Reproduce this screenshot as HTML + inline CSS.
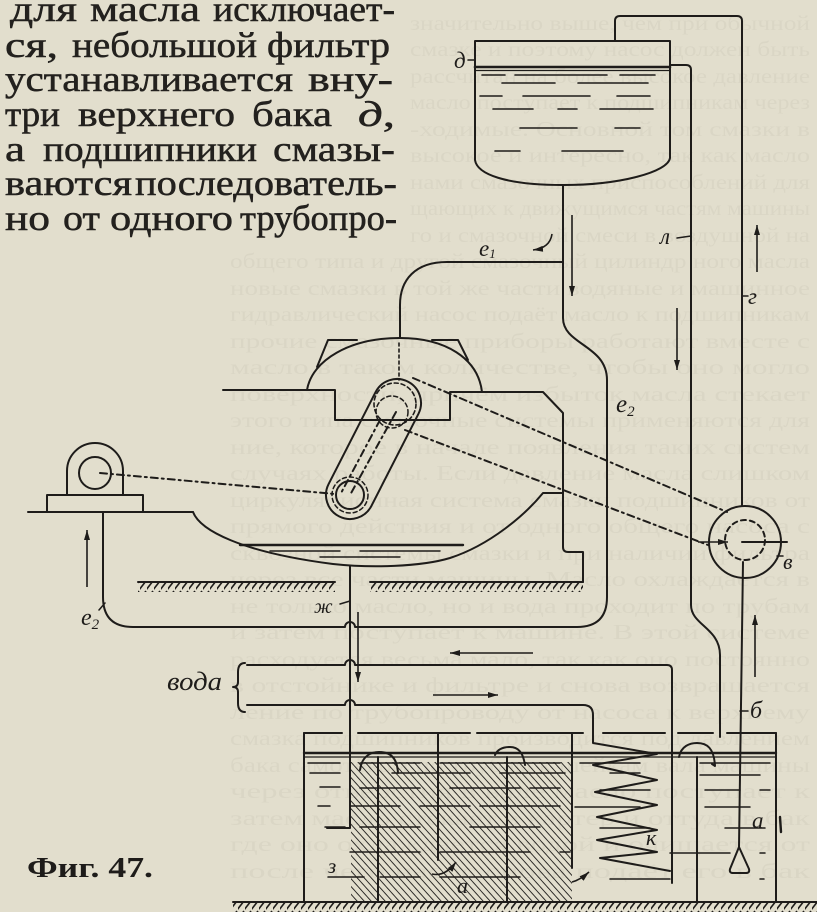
<!DOCTYPE html>
<html><head><meta charset="utf-8"><style>
html,body{margin:0;padding:0;background:#e2decd;}
svg{display:block}
</style></head><body>
<svg xmlns="http://www.w3.org/2000/svg" width="817" height="912" viewBox="0 0 817 912">
<defs>
<marker id="ah" viewBox="0 0 10 6" markerWidth="10" markerHeight="6" refX="10" refY="3" orient="auto" markerUnits="userSpaceOnUse"><path d="M0,0 L10,3 L0,6 Z" fill="#1e1c1a"/></marker>
<pattern id="fh" width="7" height="10" patternUnits="userSpaceOnUse"><line x1="-1" y1="10" x2="6" y2="1" stroke="#1e1c1a" stroke-width="1.6"/></pattern>
<pattern id="dh" width="5.2" height="6" patternUnits="userSpaceOnUse" patternTransform="rotate(-42)"><line x1="0" y1="0" x2="0" y2="6" stroke="#1e1c1a" stroke-width="1.8"/></pattern>
</defs>
<rect width="817" height="912" fill="#e2decd"/>

<!-- faint bleed-through text -->
<g font-family="'Liberation Serif',serif" font-size="21" fill="#3a3528" opacity="0.045">
<text x="410" y="30" textLength="400" lengthAdjust="spacingAndGlyphs">значительно выше, чем при обычной</text>
<text x="410" y="56" textLength="400" lengthAdjust="spacingAndGlyphs">смазке и поэтому насос должен быть</text>
<text x="410" y="83" textLength="400" lengthAdjust="spacingAndGlyphs">рассчитан на более высокое давление</text>
<text x="410" y="109" textLength="400" lengthAdjust="spacingAndGlyphs">масло поступает к подшипникам через</text>
<text x="410" y="136" textLength="400" lengthAdjust="spacingAndGlyphs">-ходимые. Основной том смазки в</text>
<text x="410" y="162" textLength="400" lengthAdjust="spacingAndGlyphs">высокое и интересно, так как масло</text>
<text x="410" y="189" textLength="400" lengthAdjust="spacingAndGlyphs">нами смазочных приспособлений для</text>
<text x="410" y="215" textLength="400" lengthAdjust="spacingAndGlyphs">щающих к движущимся частям машины</text>
<text x="410" y="242" textLength="400" lengthAdjust="spacingAndGlyphs">го и смазочной смеси в воздушной на</text>
<text x="230" y="268" textLength="580" lengthAdjust="spacingAndGlyphs">общего типа и другой смазочный цилиндр ного масла</text>
<text x="230" y="295" textLength="580" lengthAdjust="spacingAndGlyphs">новые смазки в той же части водяные и машинное</text>
<text x="230" y="321" textLength="580" lengthAdjust="spacingAndGlyphs">гидравлический насос подаёт масло к подшипникам</text>
<text x="230" y="348" textLength="580" lengthAdjust="spacingAndGlyphs">прочие смазочные приборы работают вместе с</text>
<text x="230" y="374" textLength="580" lengthAdjust="spacingAndGlyphs">масло в таком количестве, чтобы оно могло</text>
<text x="230" y="401" textLength="580" lengthAdjust="spacingAndGlyphs">поверхности, причём избыток масла стекает</text>
<text x="230" y="427" textLength="580" lengthAdjust="spacingAndGlyphs">этого типа смазочные системы применяются для</text>
<text x="230" y="454" textLength="580" lengthAdjust="spacingAndGlyphs">ние, которое в начале появления таких систем</text>
<text x="230" y="480" textLength="580" lengthAdjust="spacingAndGlyphs">случаях работы. Если давление масла слишком</text>
<text x="230" y="507" textLength="580" lengthAdjust="spacingAndGlyphs">циркуляционная система смазки подшипников от</text>
<text x="230" y="533" textLength="580" lengthAdjust="spacingAndGlyphs">прямого действия и от одного общего насоса с</text>
<text x="230" y="560" textLength="580" lengthAdjust="spacingAndGlyphs">сквозной системы смазки и при наличии фильтра</text>
<text x="230" y="586" textLength="580" lengthAdjust="spacingAndGlyphs">через все части машины. Масло охлаждается в</text>
<text x="230" y="613" textLength="580" lengthAdjust="spacingAndGlyphs">не только масло, но и вода проходит по трубам</text>
<text x="230" y="639" textLength="580" lengthAdjust="spacingAndGlyphs">и затем поступает к машине. В этой системе</text>
<text x="230" y="666" textLength="580" lengthAdjust="spacingAndGlyphs">расходуется весьма мало, так как оно постоянно</text>
<text x="230" y="692" textLength="580" lengthAdjust="spacingAndGlyphs">в отстойнике и фильтре и снова возвращается</text>
<text x="230" y="719" textLength="580" lengthAdjust="spacingAndGlyphs">ление по трубопроводу от насоса к верхнему</text>
<text x="230" y="745" textLength="580" lengthAdjust="spacingAndGlyphs">смазка подшипников производится под давлением</text>
<text x="230" y="772" textLength="580" lengthAdjust="spacingAndGlyphs">бака самотёком по трубам к шейкам вала машины</text>
<text x="230" y="798" textLength="580" lengthAdjust="spacingAndGlyphs">через отверстия в вале масло поступает к</text>
<text x="230" y="825" textLength="580" lengthAdjust="spacingAndGlyphs">затем масло стекает в картер и оттуда в бак</text>
<text x="230" y="851" textLength="580" lengthAdjust="spacingAndGlyphs">где оно охлаждается водой и очищается от</text>
<text x="230" y="878" textLength="580" lengthAdjust="spacingAndGlyphs">после чего насос снова подаёт его в бак</text>
</g>

<!-- main text -->
<g font-family="'Liberation Serif',serif" font-size="36" fill="#23211e" stroke="#23211e" stroke-width="0.5">
<text x="10" y="21" textLength="67" lengthAdjust="spacingAndGlyphs">для</text>
<text x="90" y="21" textLength="110" lengthAdjust="spacingAndGlyphs">масла</text>
<text x="213" y="21" textLength="182" lengthAdjust="spacingAndGlyphs">исключает-</text>
<text x="5" y="57" textLength="53" lengthAdjust="spacingAndGlyphs">ся,</text>
<text x="72" y="57" textLength="185" lengthAdjust="spacingAndGlyphs">небольшой</text>
<text x="267" y="57" textLength="123" lengthAdjust="spacingAndGlyphs">фильтр</text>
<text x="5" y="91" textLength="288" lengthAdjust="spacingAndGlyphs">устанавливается</text>
<text x="308" y="91" textLength="85" lengthAdjust="spacingAndGlyphs">вну-</text>
<text x="5" y="126" textLength="55" lengthAdjust="spacingAndGlyphs">три</text>
<text x="78" y="126" textLength="157" lengthAdjust="spacingAndGlyphs">верхнего</text>
<text x="252" y="126" textLength="80" lengthAdjust="spacingAndGlyphs">бака</text>
<text x="358" y="126" textLength="37" lengthAdjust="spacingAndGlyphs"><tspan font-style="italic">д</tspan>,</text>
<text x="5" y="161" textLength="20" lengthAdjust="spacingAndGlyphs">а</text>
<text x="43" y="161" textLength="214" lengthAdjust="spacingAndGlyphs">подшипники</text>
<text x="273" y="161" textLength="122" lengthAdjust="spacingAndGlyphs">смазы-</text>
<text x="5" y="195" textLength="127" lengthAdjust="spacingAndGlyphs">ваются</text>
<text x="135" y="195" textLength="262" lengthAdjust="spacingAndGlyphs">последователь-</text>
<text x="5" y="230" textLength="45" lengthAdjust="spacingAndGlyphs">но</text>
<text x="63" y="230" textLength="37" lengthAdjust="spacingAndGlyphs">от</text>
<text x="110" y="230" textLength="123" lengthAdjust="spacingAndGlyphs">одного</text>
<text x="240" y="230" textLength="157" lengthAdjust="spacingAndGlyphs">трубопро-</text>
</g>

<!-- hatching areas -->
<rect x="351" y="762" width="221" height="140" fill="url(#dh)"/>
<rect x="138" y="583" width="197" height="9" fill="url(#fh)"/>
<rect x="370" y="583" width="213" height="9" fill="url(#fh)"/>
<rect x="233" y="903" width="584" height="9" fill="url(#fh)"/>

<g fill="none" stroke="#1e1c1a" stroke-width="2" stroke-linecap="round" stroke-linejoin="round">
<!-- upper tank -->
<path d="M475,41 H670 V158 C668,172 620,185 563,185 C505,185 477,174 475,160 Z"/>
<line x1="475" y1="67" x2="670" y2="67" stroke-width="2.6"/>
<line x1="476" y1="70.5" x2="669" y2="70.5" stroke-width="1.2"/>
<g stroke-width="1.6">
<path d="M482,75 H505 M515,75 H607 M620,75 H655"/>
<path d="M502,83 H555 M578,83 H648"/>
<path d="M480,96 H502 M523,96 H590 M617,96 H650"/>
<path d="M493,109 H533 M558,109 H577 M600,109 H653"/>
<path d="M520,128 H577 M615,128 H640"/>
<path d="M495,151 H520 M562,151 H623"/>
</g>
<!-- pipes from tank -->
<path d="M615,41 V21 Q615,16 620,16 H737 Q742,16 742,21 V506"/>
<path d="M670,65 H686 Q691,65 691,70 V605 C691,625 720,628 720,655 V737"/>
<path d="M563,185 V318 C563,345 607,345 607,380 V597 Q607,627 577,627 H355 A5,5 0 0 0 345,627 H133 Q103,627 103,597 V512"/>
<path d="M563,262 H447 C415,262 400,280 400,305 V338"/>

<!-- cylinder cover -->
<path d="M307,390 C312,360 350,338 400,338 C445,338 478,358 482,392"/>
<path d="M317,367 L328,340 H357"/>
<path d="M432,340 H458 L468,360"/>
<!-- crankcase -->
<path d="M223,390 H335 V420 H450 V392 H543 L563,413 V547 Q563,552 568,552 H583 V582"/>
<path d="M193,512 C200,530 240,552 333,564 C370,568 420,567 450,558 C490,545 525,515 543,493 H563"/>
<line x1="28" y1="512" x2="193" y2="512"/>
<line x1="240" y1="545" x2="463" y2="545" stroke-width="2.4"/>
<path d="M270,551 H340 M360,551 H440 M320,557 H400" stroke-width="1.4"/>
<!-- pedestal -->
<rect x="47" y="495" width="96" height="17"/>
<path d="M67,495 V471 A28,28 0 0 1 123,471 V495"/>
<circle cx="95" cy="473" r="16"/>
<!-- connecting rod -->
<path d="M418.4,413.9 L371.4,505.9 A24,24 0 0 1 328.6,484.1 L375.6,392.1 A24,24 0 0 1 418.4,413.9 Z"/>
<circle cx="350" cy="495" r="14"/>
<circle cx="350" cy="495" r="18" stroke-dasharray="4 3" stroke-width="1.5"/>
<circle cx="395" cy="404" r="21" stroke-dasharray="4 3" stroke-width="1.6"/>
<circle cx="392" cy="412" r="16" stroke-dasharray="4 3" stroke-width="1.5"/>
<!-- floor lines -->
<line x1="138" y1="582" x2="335" y2="582"/>
<line x1="370" y1="582" x2="583" y2="582"/>
<line x1="233" y1="902" x2="817" y2="902"/>

<!-- dashed center lines -->
<g stroke-dasharray="7 4 2 4" stroke-width="2">
<line x1="100" y1="473" x2="335" y2="494"/>
<line x1="413" y1="378" x2="727" y2="512"/>
<line x1="405" y1="430" x2="708" y2="545"/>
<line x1="396" y1="412" x2="350" y2="495"/>
<line x1="380" y1="420" x2="340" y2="495"/>
</g>
<line x1="399" y1="343" x2="399" y2="380" stroke-dasharray="3 3" stroke-width="1.6"/>

<!-- ж pipe & water pipes -->
<path d="M350,566 V828 H327"/>
<path d="M247,665 H345 A5,5 0 0 1 355,665 H667 Q672,665 672,670 V883"/>
<path d="M247,705 H345 A5,5 0 0 1 355,705 H583 Q593,705 593,715 V743 L657,754 L593,765 L657,780 L595,792 L657,805 L597,817 L657,830 L597,840 L657,852 L600,858 L670,871"/>
<path d="M245,663 Q238,663 238,672 V682 Q238,687 233,687 Q238,687 238,692 V703 Q238,712 245,712"/>

<!-- lower tank -->
<line x1="304" y1="733" x2="304" y2="902"/>
<line x1="776" y1="733" x2="776" y2="902"/>
<path d="M304,733 H342 M358,733 H470 M477,733 H583 M603,733 H665 M678,733 H713 M727,733 H776"/>
<line x1="304" y1="753" x2="776" y2="753" stroke-width="2.4"/>
<line x1="305" y1="757" x2="775" y2="757" stroke-width="1.2"/>
<line x1="378" y1="757" x2="378" y2="902"/>
<line x1="438" y1="733" x2="438" y2="860"/>
<line x1="507" y1="757" x2="507" y2="902"/>
<line x1="572" y1="733" x2="572" y2="868"/>
<line x1="697" y1="757" x2="697" y2="902"/>
<!-- overflow arcs -->
<path d="M360,770 C362,755 372,752 379,752 C390,752 397,757 398,773"/>
<path d="M495,755 C498,748 505,747 510,747 C518,747 523,752 525,765"/>
<path d="M679,757 C681,746 690,743 697,743 C707,743 714,748 715,766 L712,764"/>
<!-- water dashes -->
<g stroke-width="1.5">
<path d="M308,763 H340 M360,763 H420 M440,763 H560 M580,763 H640 M700,763 H770"/>
<path d="M310,773 H340 M392,773 H470 M500,773 H565 M610,773 H640 M700,775 H760"/>
<path d="M320,787 H340 M360,788 H420 M450,788 H520 M530,788 H560 M600,790 H650 M705,790 H740 M760,790 H770"/>
<path d="M318,806 H330 M350,806 H400 M420,806 H470 M480,806 H560 M575,807 H640 M705,807 H750"/>
<path d="M325,827 H345 M360,827 H420 M470,827 H540 M600,828 H650 M725,828 H765"/>
<path d="M350,852 H420 M440,852 H530 M560,852 H570 M670,853 H730 M760,853 H765"/>
<path d="M380,877 H420 M440,877 H520 M610,879 H670 M760,879 H764"/>
</g>
<!-- circle в -->
<circle cx="745" cy="542" r="36"/>
<circle cx="745" cy="540" r="20" stroke-dasharray="5 4"/>
<line x1="742" y1="542" x2="787" y2="542"/>
<path d="M743,562 L739,847"/>
<path d="M739,847 L730,869 Q729,873 733,873 H746 Q750,873 749,869 Z"/>
<line x1="780" y1="817" x2="781" y2="832" stroke-width="2.4"/>

<!-- leaders -->
<path d="M468,60 H475 M677,238 L691,236 M742,296 H748 M99,610 L105,603 M340,604 L350,601 M777,556 H783 M740,711 H748 M328,877 H364" stroke-width="1.5"/>
</g>

<!-- arrows -->
<g stroke="#1e1c1a" stroke-width="1.6" fill="none" marker-end="url(#ah)">
<line x1="572" y1="215" x2="572" y2="296"/>
<line x1="757" y1="272" x2="757" y2="225"/>
<line x1="677" y1="308" x2="677" y2="370"/>
<line x1="87" y1="587" x2="87" y2="530"/>
<line x1="358" y1="612" x2="358" y2="682"/>
<line x1="533" y1="653" x2="450" y2="653"/>
<line x1="433" y1="695" x2="498" y2="695"/>
<line x1="755" y1="677" x2="755" y2="615"/>
<line x1="698" y1="542" x2="728" y2="542"/>
<path d="M552,234 Q550,248 533,250"/>
<path d="M432,874 Q445,877 456,862"/>
<path d="M572,882 Q580,880 589,872"/>
</g>

<!-- labels -->
<g font-family="'Liberation Serif',serif" font-style="italic" fill="#1e1c1a" font-size="23">
<text x="454" y="68">д</text>
<text x="479" y="256">e<tspan font-size="13" dy="2">1</tspan></text>
<text x="660" y="244">л</text>
<text x="748" y="304">г</text>
<text x="616" y="412" font-size="25">e<tspan font-size="15" dy="4">2</tspan></text>
<text x="81" y="625" font-size="24">e<tspan font-size="15" dy="4">2</tspan></text>
<text x="314" y="613" font-size="20">ж</text>
<text x="167" y="690" font-size="26" textLength="55" lengthAdjust="spacingAndGlyphs">вода</text>
<text x="783" y="569" font-size="22">в</text>
<text x="750" y="718" font-size="24">б</text>
<text x="752" y="828" font-size="23">а</text>
<text x="646" y="845" font-size="22">к</text>
<text x="328" y="873" font-size="21">з</text>
<text x="457" y="893" font-size="22">а</text>
</g>
<text x="27" y="877" font-family="'Liberation Serif',serif" font-weight="bold" font-size="28" fill="#1e1c1a" textLength="126" lengthAdjust="spacingAndGlyphs">Фиг. 47.</text>
</svg>
</body></html>
